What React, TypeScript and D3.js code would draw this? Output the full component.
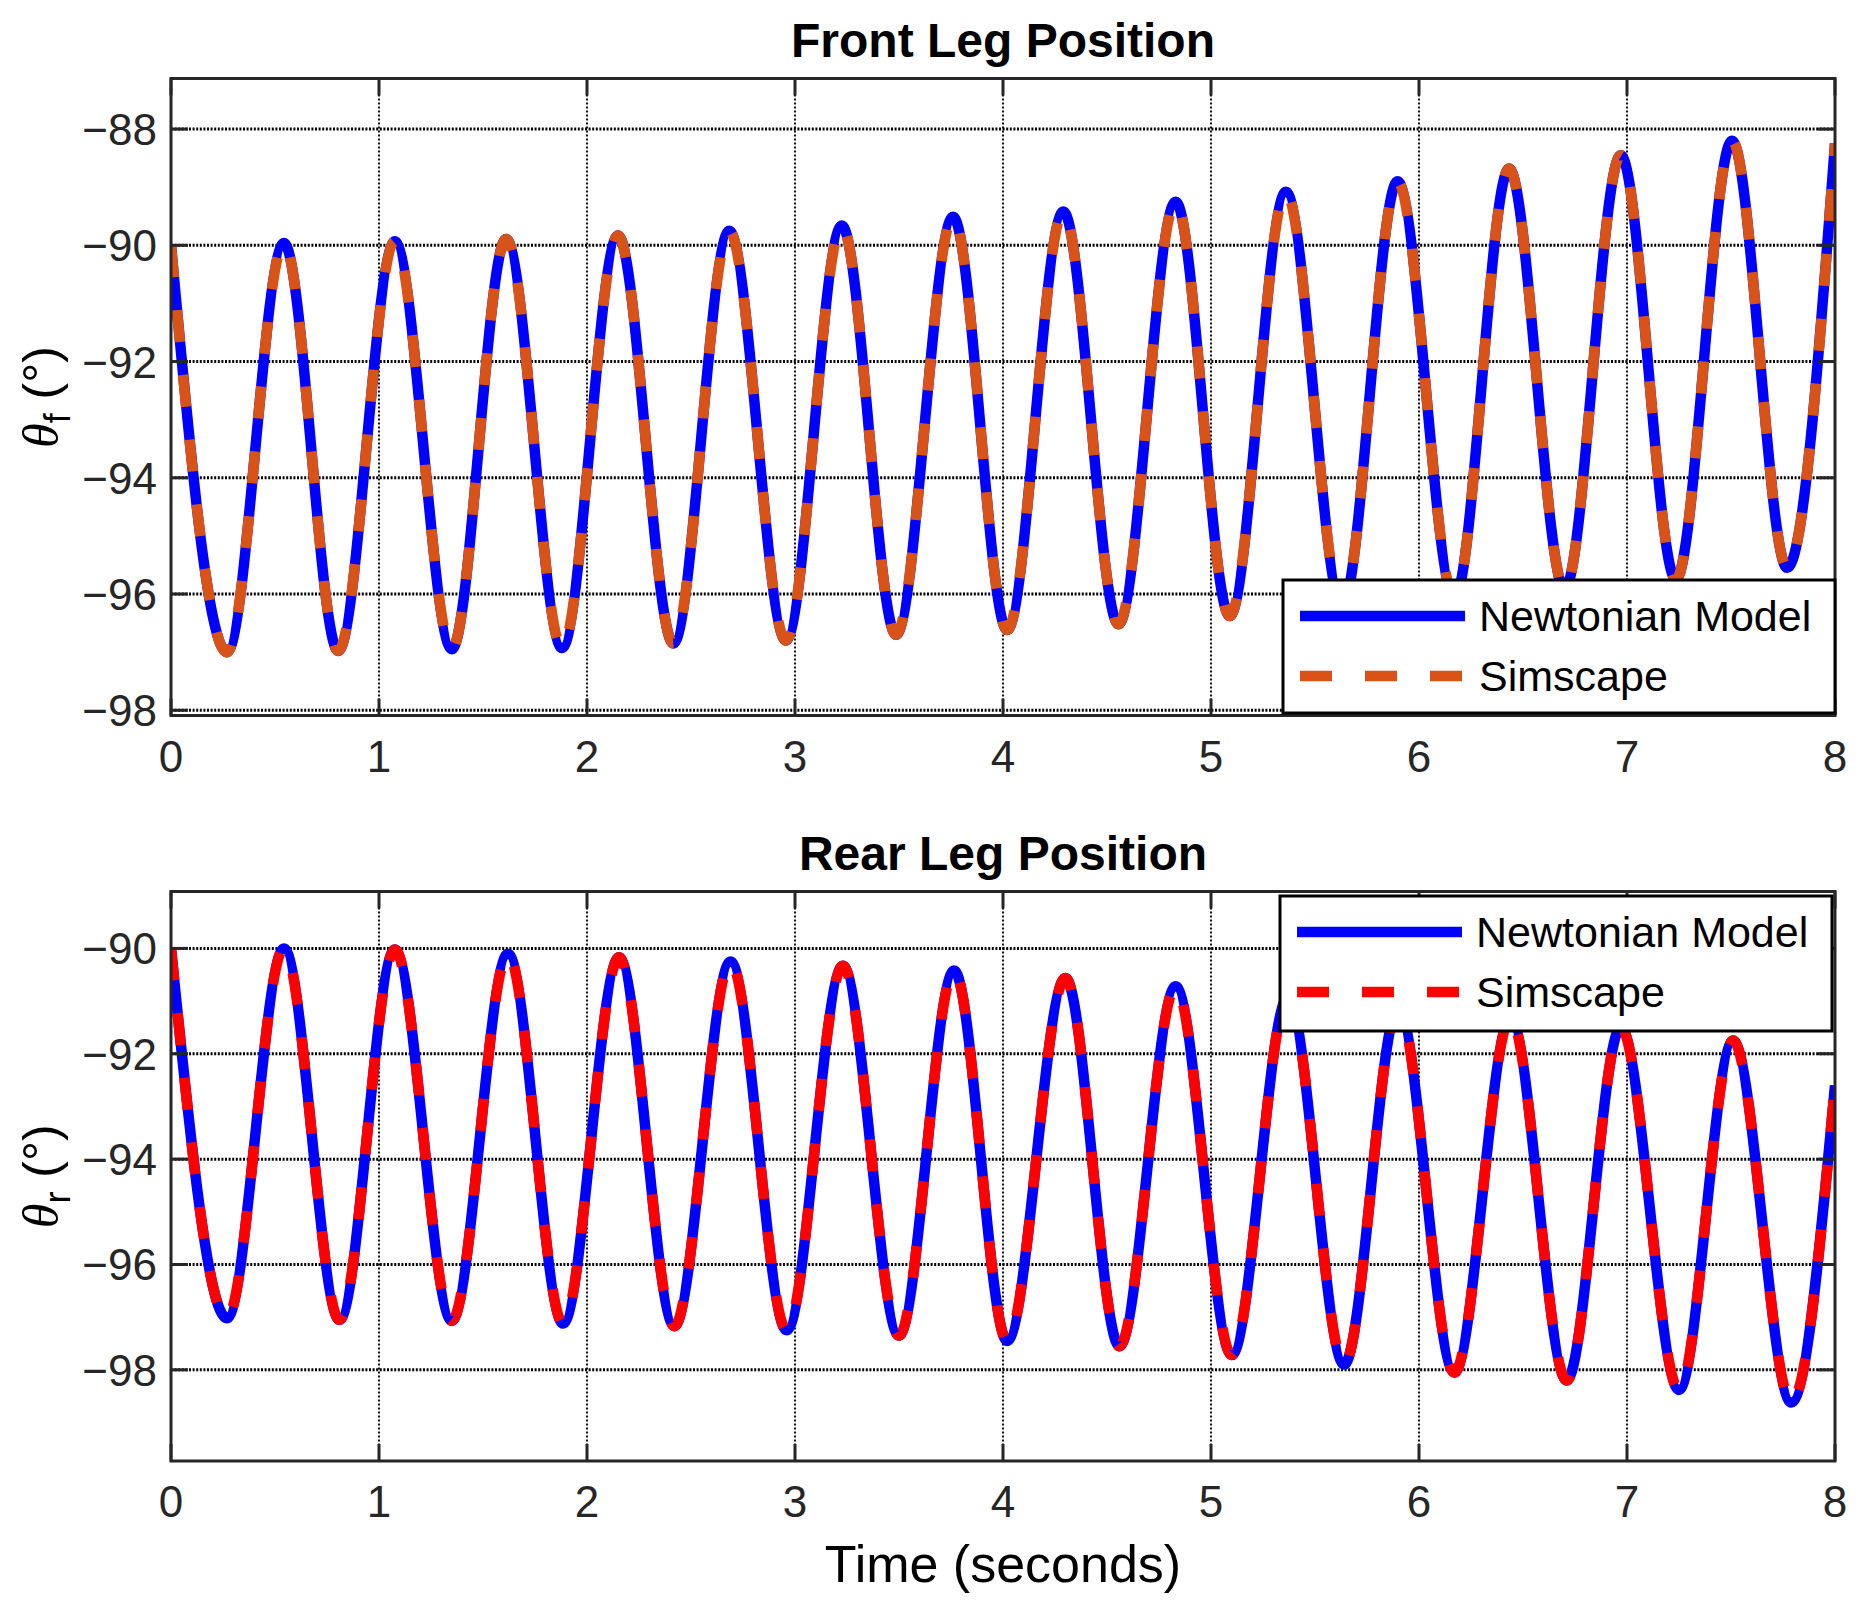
import React from "react";
import * as d3 from "d3";

// extrema (peaks / troughs), plus start and end samples
const frontTimes = [
  0, 0.269, 0.543, 0.804, 1.076, 1.35, 1.611, 1.88, 2.149, 2.415, 2.684,
  2.956, 3.225, 3.486, 3.76, 4.02, 4.29, 4.555, 4.83, 5.09, 5.36, 5.63,
  5.897, 6.17, 6.433, 6.7, 6.97, 7.235, 7.505, 7.77, 8.0,
];
const frontValues = [
  -90, -97.0, -89.96, -96.98, -89.93, -96.95, -89.89, -96.93, -89.83, -96.85,
  -89.75, -96.8, -89.66, -96.7, -89.51, -96.62, -89.42, -96.52, -89.25,
  -96.38, -89.08, -96.22, -88.9, -96.08, -88.68, -95.92, -88.45, -95.75,
  -88.2, -95.55, -88.25,
];

const rearTimes = [
  0, 0.269, 0.543, 0.81, 1.076, 1.35, 1.62, 1.885, 2.154, 2.42, 2.69, 2.96,
  3.23, 3.5, 3.765, 4.02, 4.3, 4.56, 4.83, 5.1, 5.37, 5.64, 5.9, 6.17, 6.44,
  6.71, 6.97, 7.25, 7.51, 7.79, 8.0,
];
const rearValues = [
  -90, -97.02, -90.0, -97.05, -90.02, -97.07, -90.1, -97.12, -90.17, -97.17,
  -90.25, -97.25, -90.33, -97.35, -90.42, -97.45, -90.56, -97.55, -90.72,
  -97.72, -90.92, -97.9, -91.12, -98.05, -91.32, -98.2, -91.5, -98.38,
  -91.75, -98.62, -92.6,
];

const xTicks = [0, 1, 2, 3, 4, 5, 6, 7, 8];
const frontYTicks = [-98, -96, -94, -92, -90, -88];
const rearYTicks = [-98, -96, -94, -92, -90];
const seriesNames = ["Newtonian Model", "Simscape"];

const W = 1862;
const H = 1610;
const X0 = 171;
const X1 = 1835;
const FONT = "'Liberation Sans', Arial, Helvetica, sans-serif";
const INK = "#262626";
const TICK = 17;

interface PanelProps {
  title: string;
  sub: string;
  times: number[];
  values: number[];
  yDomain: [number, number];
  yTicks: number[];
  top: number;
  bottom: number;
  dashColor: string;
  legend: { x: number; y: number; w: number; h: number };
}

const Panel = ({
  title,
  sub,
  times,
  values,
  yDomain,
  yTicks,
  top,
  bottom,
  dashColor,
  legend,
}: PanelProps) => {
  const x = d3.scaleLinear().domain([0, 8]).range([X0, X1]);
  const y = d3.scaleLinear().domain(yDomain).range([bottom, top]);
  const pts = times.map((t, i) => [t, values[i]] as [number, number]);
  const line = d3
    .line<[number, number]>()
    .x((d) => x(d[0]))
    .y((d) => y(d[1]))
    .curve(d3.curveMonotoneX);
  const path = line(pts) || "";
  const clipId = `clip-${sub}`;
  const midY = (top + bottom) / 2;
  const row1 = legend.y + 36;
  const row2 = legend.y + 96;

  return (
    <g>
      <defs>
        <clipPath id={clipId}>
          <rect x={X0} y={top} width={X1 - X0} height={bottom - top} />
        </clipPath>
      </defs>
      {/* grid */}
      {xTicks.slice(1, -1).map((t) => (
        <line
          key={`gx${t}`}
          x1={x(t)}
          x2={x(t)}
          y1={top}
          y2={bottom}
          stroke="#111"
          strokeWidth={2}
          strokeDasharray="2 2"
        />
      ))}
      {yTicks.map((v) => (
        <line
          key={`gy${v}`}
          x1={X0}
          x2={X1}
          y1={y(v)}
          y2={y(v)}
          stroke="#000"
          strokeWidth={3}
          strokeDasharray="2 1.6"
        />
      ))}
      {/* curves */}
      <g clipPath={`url(#${clipId})`}>
        <path d={path} fill="none" stroke="#0000ff" strokeWidth={10.5} />
        <path
          d={path}
          fill="none"
          stroke={dashColor}
          strokeWidth={10.5}
          strokeDasharray="32 33"
        />
      </g>
      {/* box and ticks */}
      <rect
        x={X0}
        y={top}
        width={X1 - X0}
        height={bottom - top}
        fill="none"
        stroke={INK}
        strokeWidth={3}
      />
      {xTicks.map((t) => (
        <g key={`tx${t}`}>
          <line x1={x(t)} x2={x(t)} y1={bottom} y2={bottom - TICK} stroke={INK} strokeWidth={3} />
          <line x1={x(t)} x2={x(t)} y1={top} y2={top + TICK} stroke={INK} strokeWidth={3} />
          <text
            x={x(t)}
            y={bottom + 56}
            textAnchor="middle"
            fontSize={44}
            fontFamily={FONT}
            fill={INK}
          >
            {t}
          </text>
        </g>
      ))}
      {yTicks.map((v) => (
        <g key={`ty${v}`}>
          <line x1={X0} x2={X0 + TICK} y1={y(v)} y2={y(v)} stroke={INK} strokeWidth={3} />
          <line x1={X1} x2={X1 - TICK} y1={y(v)} y2={y(v)} stroke={INK} strokeWidth={3} />
          <text
            x={X0 - 14}
            y={y(v) + 16}
            textAnchor="end"
            fontSize={44}
            fontFamily={FONT}
            fill={INK}
          >
            {`\u2212${Math.abs(v)}`}
          </text>
        </g>
      ))}
      {/* title */}
      <text
        x={(X0 + X1) / 2}
        y={top - 22}
        textAnchor="middle"
        fontSize={48}
        fontWeight="bold"
        fontFamily={FONT}
        fill="#000"
      >
        {title}
      </text>
      {/* y label */}
      <text
        transform={`translate(58,${midY}) rotate(-90)`}
        textAnchor="middle"
        fontSize={50}
        fontFamily={FONT}
        fill="#000"
      >
        <tspan fontFamily="'Liberation Serif', 'Times New Roman', serif" fontStyle="italic">
          θ
        </tspan>
        <tspan fontSize={36} dy={12}>
          {sub}
        </tspan>
        <tspan dy={-12}> (°)</tspan>
      </text>
      {/* legend */}
      <rect
        x={legend.x}
        y={legend.y}
        width={legend.w}
        height={legend.h}
        fill="#fff"
        stroke="#000"
        strokeWidth={3}
      />
      <line
        x1={legend.x + 17}
        x2={legend.x + 182}
        y1={row1}
        y2={row1}
        stroke="#0000ff"
        strokeWidth={10.5}
      />
      <line
        x1={legend.x + 17}
        x2={legend.x + 182}
        y1={row2}
        y2={row2}
        stroke={dashColor}
        strokeWidth={10.5}
        strokeDasharray="32 33"
      />
      {seriesNames.map((name, i) => (
        <text
          key={name}
          x={legend.x + 196}
          y={(i === 0 ? row1 : row2) + 15}
          fontSize={43}
          fontFamily={FONT}
          fill="#000"
        >
          {name}
        </text>
      ))}
    </g>
  );
};

export default function App() {
  return (
    <svg
      width={W}
      height={H}
      viewBox={`0 0 ${W} ${H}`}
      style={{ position: "absolute", left: 0, top: 0, background: "#fff" }}
    >
      <rect width={W} height={H} fill="#fff" />
      <Panel
        title="Front Leg Position"
        sub="f"
        times={frontTimes}
        values={frontValues}
        yDomain={[-98.09, -87.13]}
        yTicks={frontYTicks}
        top={78.5}
        bottom={715.5}
        dashColor="#d95319"
        legend={{ x: 1283, y: 580, w: 552, h: 133 }}
      />
      <Panel
        title="Rear Leg Position"
        sub="r"
        times={rearTimes}
        values={rearValues}
        yDomain={[-99.73, -88.92]}
        yTicks={rearYTicks}
        top={891.5}
        bottom={1461}
        dashColor="#ff0000"
        legend={{ x: 1280, y: 896, w: 552, h: 135 }}
      />
      <text
        x={(X0 + X1) / 2}
        y={1582}
        textAnchor="middle"
        fontSize={52}
        fontFamily={FONT}
        fill="#000"
      >
        Time (seconds)
      </text>
    </svg>
  );
}
